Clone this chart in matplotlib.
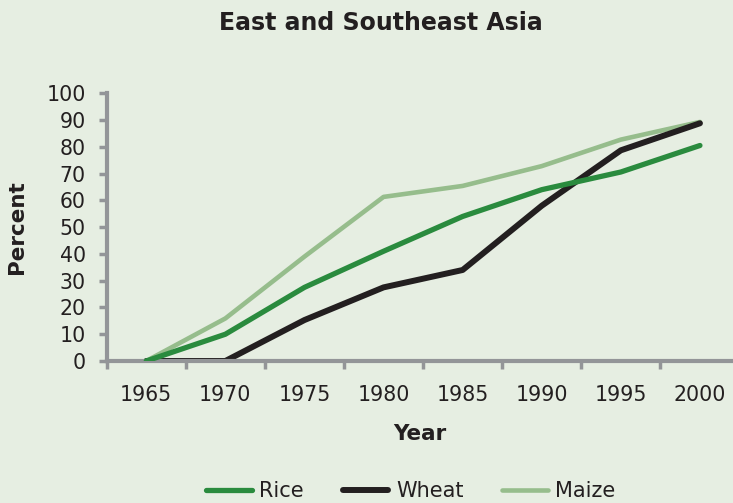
import matplotlib.pyplot as plt
import numpy as np

years = ['1965', '1970', '1975', '1980', '1985', '1990', '1995', '2000']
rice = [0, 10, 27.5, 41, 54, 64, 70.6, 80.5]
wheat = [0, 0, 15.3, 27.5, 34, 58, 78.7, 88.8]
maize = [0, 15.9, 39, 61.3, 65.4, 72.8, 82.7, 89.3]

bg = '#e6eee2'
axcol = '#939598'
txt = '#231f20'
plt.rcParams['font.family'] = 'DejaVu Sans'

fig = plt.figure(figsize=(7.33, 5.03), dpi=100, facecolor=bg)
ax = fig.add_axes([106.7 / 733, 1 - 361 / 503, 1 - 106.7 / 733, (361 - 93.3) / 503])
ax.set_facecolor(bg)

x = np.arange(len(years))
l1, = ax.plot(x, rice, color='#2a8b3e', lw=3.8, solid_capstyle='round', label='Rice', zorder=3)
l2, = ax.plot(x, wheat, color=txt, lw=4.3, solid_capstyle='round', label='Wheat', zorder=2)
l3, = ax.plot(x, maize, color='#96bd8c', lw=3.3, solid_capstyle='round', label='Maize', zorder=1)

# category axis: ticks between the categories, 79.1 px per category
ax.set_xlim(-0.5, -0.5 + (733 - 106.7) / 79.1)
ax.set_xticks(np.arange(len(years)) - 0.5)
ax.set_xticklabels([])
ax.set_xticks(x, minor=True)
ax.set_xticklabels(years, minor=True, fontsize=14.8, color=txt)
ax.tick_params(axis='x', which='minor', length=0, pad=17)
ax.tick_params(axis='x', which='major', length=6, width=2.5, color=axcol)
ax.set_ylim(0, 100)
ax.set_yticks(range(0, 101, 10))
ax.tick_params(axis='y', length=6, width=2.5, color=axcol, labelsize=14.8,
               labelcolor=txt, pad=9)
for s in ['top', 'right']:
    ax.spines[s].set_visible(False)
for s in ['left', 'bottom']:
    ax.spines[s].set_color(axcol)
    ax.spines[s].set_linewidth(3)
ax.set_xlabel('Year', fontsize=15.5, fontweight='bold', color=txt, labelpad=14)
ax.set_ylabel('Percent', fontsize=15.5, fontweight='bold', color=txt, labelpad=14)

fig.text(380.5 / 733, 1 - 23 / 503, 'East and Southeast Asia', ha='center', va='center',
         fontsize=17, fontweight='bold', color=txt)
fig.legend(handles=[l1, l2, l3], loc='center', bbox_to_anchor=(411 / 733, 1 - 491 / 503),
           ncol=3, frameon=False, fontsize=15, handlelength=2.17, columnspacing=1.87,
           handletextpad=0.37, labelcolor=txt)

fig.savefig('out.png', dpi=100, facecolor=bg)
